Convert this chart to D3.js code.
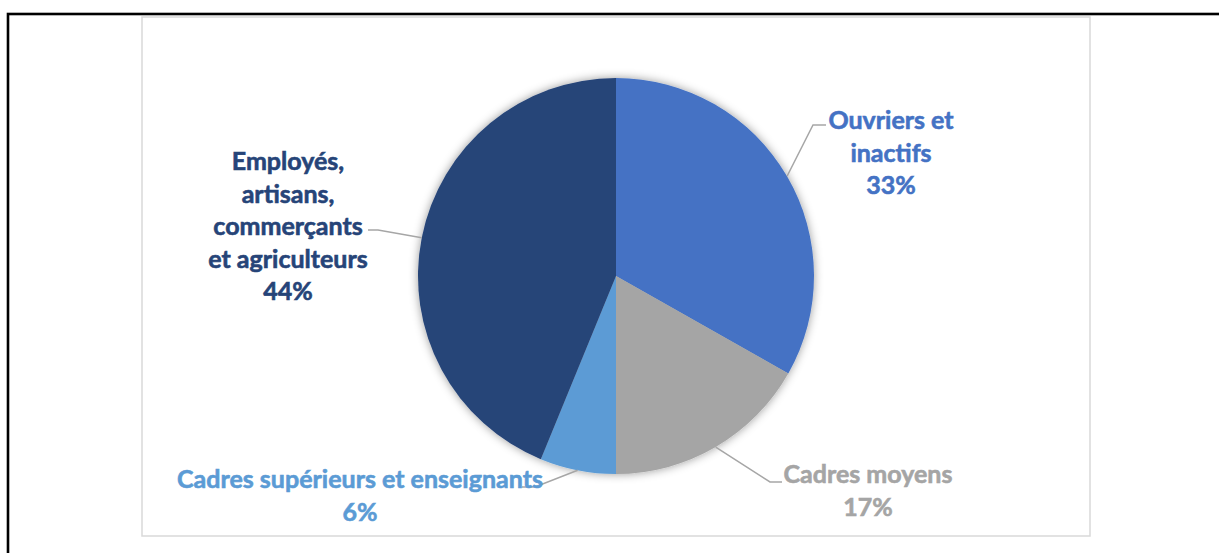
<!DOCTYPE html>
<html>
<head>
<meta charset="utf-8">
<script src="https://cdn.jsdelivr.net/npm/d3@7"></script>
<style>
  body { margin: 0; background: #fff; }
  svg { display: block; }
</style>
</head>
<body>
<div class="chart"></div>
<script>
// data
const categories = ["Ouvriers et inactifs", "Cadres moyens", "Cadres supérieurs et enseignants", "Employés, artisans, commerçants et agriculteurs"];
const values = [33.2, 16.8, 6.2, 43.8];
const colors = ["#4472C4", "#A5A5A5", "#5B9BD5", "#264478"];
const labelLines = [
  ["Ouvriers et", "inactifs"],
  ["Cadres moyens"],
  ["Cadres supérieurs et enseignants"],
  ["Employés,", "artisans,", "commerçants", "et agriculteurs"]
];

const W = 1219, H = 553;
const cx = 616, cy = 276, r = 198;
const fontSize = 25, lineH = 32.5;

// label placement (centre x, first line y) and leader elbow/end, in px
const labelPos = [
  {x: 891, y: 119, elbow: [813, 125], end: [826, 125]},
  {x: 868, y: 473, elbow: [770, 482], end: [782, 482]},
  {x: 360, y: 478, elbow: [535, 487], end: [522, 487]},
  {x: 288, y: 160, elbow: [378, 230], end: [368, 230]}
];

const svg = d3.select(".chart")
  .append("svg")
  .attr("width", W)
  .attr("height", H)
  .style("font-family", "Lato, 'Open Sans', sans-serif")
  .style("font-weight", "bold");

// outer black frame
svg.append("rect")
  .attr("x", 8).attr("y", 14)
  .attr("width", W + 20).attr("height", H + 20)
  .attr("fill", "none")
  .attr("stroke", "#000")
  .attr("stroke-width", 2.6);

// chart area border
svg.append("rect")
  .attr("x", 142).attr("y", 17)
  .attr("width", 948).attr("height", 519)
  .attr("fill", "#fff")
  .attr("stroke", "#D9D9D9")
  .attr("stroke-width", 1.5);

const defs = svg.append("defs");
const f = defs.append("filter").attr("id", "shadow")
  .attr("x", "-20%").attr("y", "-20%").attr("width", "140%").attr("height", "140%");
f.append("feDropShadow")
  .attr("dx", 0).attr("dy", 0)
  .attr("stdDeviation", 5)
  .attr("flood-color", "#000")
  .attr("flood-opacity", 0.4);

const data = categories.map((c, i) => ({category: c, value: values[i], color: colors[i], lines: labelLines[i], pos: labelPos[i]}));
const total = d3.sum(values);

const pie = d3.pie().value(d => d.value).sort(null);
const arc = d3.arc().innerRadius(0).outerRadius(r);
const arcs = pie(data);

const g = svg.append("g").attr("transform", `translate(${cx}, ${cy})`);

g.append("g")
  .attr("filter", "url(#shadow)")
  .selectAll("path")
  .data(arcs)
  .enter()
  .append("path")
  .attr("d", arc)
  .attr("fill", d => d.data.color);

// leader lines
svg.selectAll("polyline.leader")
  .data(arcs)
  .enter()
  .append("polyline")
  .attr("class", "leader")
  .attr("fill", "none")
  .attr("stroke", "#A6A6A6")
  .attr("stroke-width", 1.5)
  .attr("points", d => {
    const a = (d.startAngle + d.endAngle) / 2;
    const sx = cx + r * Math.sin(a), sy = cy - r * Math.cos(a);
    return [[sx, sy], d.data.pos.elbow, d.data.pos.end].map(p => p.join(",")).join(" ");
  });

// labels
const labels = svg.selectAll("text.label")
  .data(arcs)
  .enter()
  .append("text")
  .attr("class", "label")
  .attr("text-anchor", "middle")
  .attr("dominant-baseline", "central")
  .attr("fill", d => d.data.color)
  .attr("stroke", d => d.data.color)
  .attr("stroke-width", 0.6)
  .style("font-size", fontSize + "px");

labels.each(function(d) {
  const t = d3.select(this);
  const lines = d.data.lines.concat([Math.round(d.data.value / total * 100) + "%"]);
  lines.forEach((l, i) => {
    t.append("tspan")
      .attr("x", d.data.pos.x)
      .attr("y", d.data.pos.y + i * lineH)
      .text(l);
  });
});
</script>
</body>
</html>
